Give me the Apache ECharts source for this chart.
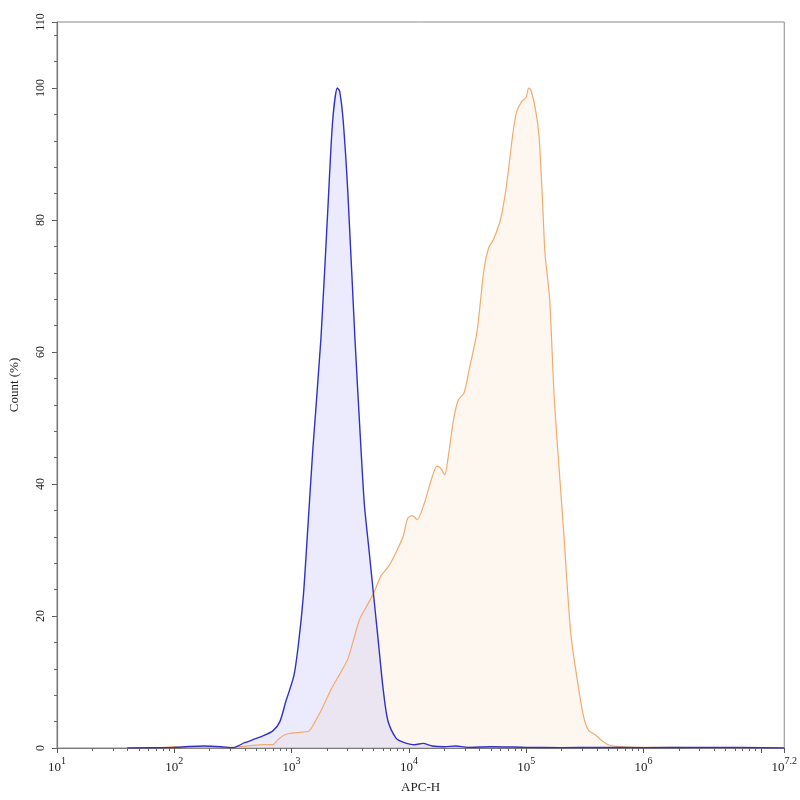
<!DOCTYPE html>
<html>
<head>
<meta charset="utf-8">
<script src="https://cdn.jsdelivr.net/npm/echarts@6/dist/echarts.min.js"></script>
<style>html,body{margin:0;padding:0;background:#fff}#chart{width:800px;height:800px}</style>
</head>
<body>
<div id="chart"></div>
<script>
// x values are log10(APC-H)
const blueLogX = [1.6,2.0,2.1,2.25,2.4,2.5,2.6,2.75,2.84,2.9,2.95,3.02,3.06,3.1,3.13,3.18,3.25,3.31,3.35,3.39,3.41,3.44,3.48,3.54,3.58,3.62,3.66,3.7,3.74,3.78,3.82,3.89,3.95,4.05,4.12,4.2,4.3,4.4,4.5,4.7,5.0,5.3,5.6,6.0,6.5,7.2];
const blueCount = [0,0.1,0.2,0.3,0.2,0.05,0.8,1.8,2.6,4,7,11,16,23,31,45,62,82,95,100,99.5,95,84,62,49,37,30,23,16,9,4.2,1.5,0.9,0.5,0.7,0.3,0.2,0.3,0.1,0.2,0.1,0.05,0.1,0.05,0.1,0];
const orangeLogX = [1.6,1.9,2.0,2.1,2.5,2.67,2.75,2.84,2.88,2.93,2.98,3.09,3.15,3.2,3.26,3.34,3.42,3.48,3.53,3.58,3.64,3.7,3.76,3.83,3.9,3.95,3.99,4.03,4.07,4.13,4.19,4.24,4.27,4.305,4.34,4.38,4.42,4.47,4.51,4.58,4.64,4.68,4.72,4.78,4.83,4.89,4.92,4.96,5.0,5.02,5.04,5.08,5.11,5.14,5.16,5.2,5.24,5.3,5.32,5.38,5.44,5.49,5.53,5.59,5.64,5.7,5.8,6.0,6.3,6.5,7.2];
const orangeCount = [0,0.1,0.2,0,0.1,0.4,0.5,0.5,1.2,1.9,2.2,2.4,2.6,4,6,9,11.5,13.5,16.5,19.5,21.5,23.5,26,27.6,30,32,34.8,35.2,34.6,37,40.6,42.7,42.4,41.4,44.7,49.7,52.7,53.8,57,63,72.5,75.8,77,80,85,93.6,96.5,97.9,98.6,100,99.7,96.7,92.6,82.6,75,68,52.7,37.6,32.6,17.4,9.8,4.7,2.7,2,1.2,0.5,0.2,0.1,0.1,0,0];
const xLabelExponents = [1,2,3,4,5,6,7.2];
const xMajorTicks = [1,2,3,4,5,6,7,7.2];
const yLabelValues = [0,20,40,60,80,100,110];

const xMinorTicks = [];
for (let n = 1; n <= 7; n++) for (let k = 2; k <= 9; k++) {
  const v = n + Math.log10(k);
  if (v < 7.2) xMinorTicks.push(v);
}
const yMinorTicks = [];
for (let v = 0; v <= 108; v += 4) yMinorTicks.push(v);
yMinorTicks.push(110);

const FONT = 'Liberation Serif';
const chart = echarts.init(document.getElementById('chart'));
chart.setOption({
  animation: false,
  grid: {left: 53, right: 15, top: 22, bottom: 52, show: true, borderColor: '#8a8a8a', borderWidth: 1, backgroundColor: 'transparent'},
  xAxis: [{
    type: 'value', min: 1, max: 7.2,
    name: 'APC-H', nameLocation: 'middle', nameGap: 33,
    nameTextStyle: {fontFamily: FONT, fontSize: 13, color: '#222'},
    axisLine: {lineStyle: {color: '#7a7a7a', width: 1.2}},
    axisTick: {show: true, inside: false, length: 5, customValues: xMajorTicks, lineStyle: {color: '#555'}},
    axisLabel: {
      customValues: xLabelExponents, margin: 8,
      formatter: v => '{b|10}{s|' + (Math.round(v * 10) / 10) + '}',
      rich: {b: {fontFamily: FONT, fontSize: 13, color: '#222', verticalAlign: 'bottom'}, s: {fontFamily: FONT, fontSize: 10, color: '#222', verticalAlign: 'top', padding: [0,0,8,0]}}
    },
    splitLine: {show: false}
  }, {
    type: 'value', min: 1, max: 7.2, position: 'bottom',
    axisLine: {show: false},
    axisTick: {show: true, length: 3, customValues: xMinorTicks, lineStyle: {color: '#666'}},
    axisLabel: {show: false},
    splitLine: {show: false}
  }],
  yAxis: [{
    type: 'value', min: 0, max: 110,
    name: 'Count (%)', nameLocation: 'middle', nameGap: 36, nameRotate: 90,
    nameTextStyle: {fontFamily: FONT, fontSize: 13, color: '#222'},
    axisLine: {show: true, lineStyle: {color: '#7a7a7a', width: 1.2}},
    axisTick: {show: true, length: 5, customValues: yLabelValues, lineStyle: {color: '#555'}},
    axisLabel: {customValues: yLabelValues, rotate: 90, margin: 10, fontFamily: FONT, fontSize: 12, color: '#222'},
    splitLine: {show: false}
  }, {
    type: 'value', min: 0, max: 110, position: 'left',
    axisLine: {show: false},
    axisTick: {show: true, length: 3, customValues: yMinorTicks, lineStyle: {color: '#666'}},
    axisLabel: {show: false},
    splitLine: {show: false}
  }],
  series: [{
    type: 'line', name: 'orange', xAxisIndex: 0, yAxisIndex: 0,
    data: orangeLogX.map((x, i) => [x, orangeCount[i]]),
    smooth: 0.25, symbol: 'none',
    lineStyle: {color: '#f2ab6e', width: 1.2},
    areaStyle: {color: 'rgba(253,234,214,0.55)'}
  }, {
    type: 'line', name: 'blue', xAxisIndex: 0, yAxisIndex: 0,
    data: blueLogX.map((x, i) => [x, blueCount[i]]),
    smooth: 0.25, symbol: 'none',
    lineStyle: {color: '#3030c8', width: 1.4},
    areaStyle: {color: 'rgba(160,160,245,0.3)'}
  }]
});
</script>
</body>
</html>
